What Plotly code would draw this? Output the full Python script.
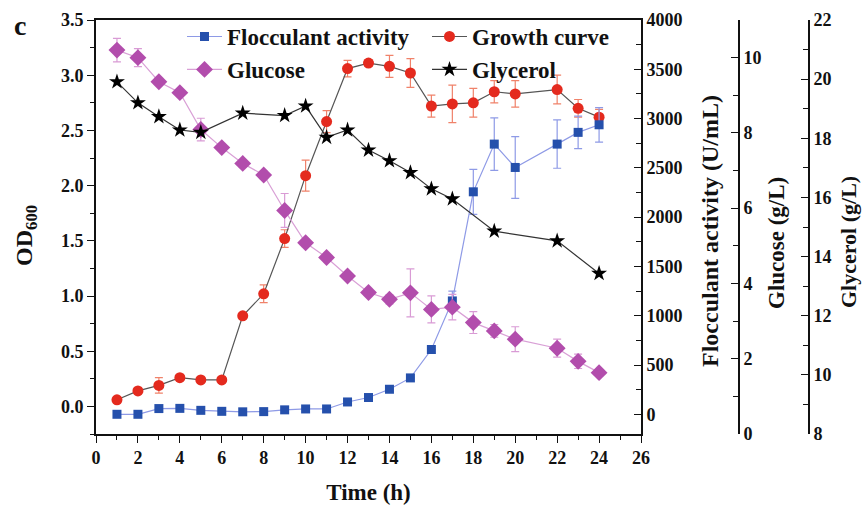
import plotly.graph_objects as go

# ---------------- data ----------------
hours = [1, 2, 3, 4, 5, 6, 7, 8, 9, 10, 11, 12, 13, 14, 15, 16, 17, 18, 19, 20, 22, 23, 24]
growth_od = [0.06, 0.14, 0.19, 0.26, 0.24, 0.24, 0.82, 1.02, 1.52, 2.09, 2.58, 3.06, 3.11, 3.08,
             3.02, 2.72, 2.74, 2.75, 2.85, 2.83, 2.87, 2.70, 2.62]
growth_err = [0.02, 0.02, 0.07, 0.02, 0.02, 0.02, 0.02, 0.08, 0.08, 0.14, 0.10, 0.075, 0.03, 0.10,
              0.13, 0.10, 0.17, 0.13, 0.10, 0.12, 0.13, 0.08, 0.07]
floc_activity = [0, 0, 58, 60, 40, 30, 25, 27, 45, 54, 54, 125, 170, 254, 369, 657, 1150, 2257,
                 2741, 2504, 2741, 2860, 2937]
floc_err = [0, 0, 0, 0, 0, 0, 0, 0, 0, 0, 0, 0, 0, 0, 0, 0, 100, 228, 267, 313, 245, 165, 175]
glucose = [10.2, 10.0, 9.36, 9.07, 8.09, 7.61, 7.19, 6.88, 5.94, 5.08, 4.69, 4.2, 3.76, 3.58,
           3.75, 3.31, 3.37, 2.96, 2.74, 2.52, 2.28, 1.93, 1.63]
glucose_err = [0.31, 0.24, 0.05, 0.05, 0.30, 0.05, 0.10, 0.10, 0.45, 0.10, 0.05, 0.08, 0.05, 0.12,
               0.64, 0.36, 0.34, 0.29, 0.17, 0.33, 0.24, 0.19, 0.05]
glycerol_hours = [1, 2, 3, 4, 5, 7, 9, 10, 11, 12, 13, 14, 15, 16, 17, 19, 22, 24]
glycerol = [19.91, 19.2, 18.73, 18.28, 18.2, 18.85, 18.77, 19.09, 18.03, 18.28, 17.6, 17.24,
            16.84, 16.29, 15.95, 14.86, 14.53, 13.43]

FONT = "Liberation Serif"
W, H = 862, 508
ML, MR, MT, MB = 96, 10, 20, 74
PW = W - ML - MR
PH = H - MT - MB
dom_r = 545 / PW


def px(xpix):
    return (xpix - ML) / PW


def py(ypix):
    return 1 - (ypix - MT) / PH


fig = go.Figure()

fig.add_trace(go.Scatter(
    x=hours, y=floc_activity, yaxis="y2", name="Flocculant activity", legend="legend",
    mode="lines+markers",
    line=dict(color="#8e9ae6", width=1.2),
    marker=dict(symbol="square", size=9, color="#2550ac"),
    error_y=dict(type="data", array=floc_err, color="#8e9ae6", thickness=1.2, width=4),
))
fig.add_trace(go.Scatter(
    x=hours, y=growth_od, yaxis="y", name="Growth curve", legend="legend2",
    mode="lines+markers",
    line=dict(color="#555555", width=1.2),
    marker=dict(symbol="circle", size=11, color="#e42a1e"),
    error_y=dict(type="data", array=growth_err, color="#f0826a", thickness=1.2, width=4),
))
fig.add_trace(go.Scatter(
    x=hours, y=glucose, yaxis="y3", name="Glucose", legend="legend",
    mode="lines+markers",
    line=dict(color="#d9a0d6", width=1.2),
    marker=dict(symbol="diamond", size=13, color="#b24dac"),
    error_y=dict(type="data", array=glucose_err, color="#d99bd5", thickness=1.2, width=4),
))
fig.add_trace(go.Scatter(
    x=glycerol_hours, y=glycerol, yaxis="y4", name="Glycerol", legend="legend2",
    mode="lines+markers",
    line=dict(color="#333333", width=1.2),
    marker=dict(symbol="star", size=12, color="#000000"),
))

tickfont = dict(family=FONT, size=18, color="#111111", weight="bold")
titlefont = dict(family=FONT, size=23, color="#111111", weight="bold")

common_y = dict(showgrid=False, zeroline=False, showline=True, linecolor="#111111", linewidth=1.6,
                tickfont=tickfont, ticklen=7, tickwidth=1.4, tickcolor="#111111", automargin=False)


def vtitle(text, xpix, ypix, size=23):
    return dict(text=text, xref="paper", yref="paper", x=px(xpix), y=py(ypix),
                xanchor="center", yanchor="middle", textangle=-90, showarrow=False,
                font=dict(family=FONT, size=size, color="#111111", weight="bold"))


fig.update_layout(
    width=W, height=H,
    margin=dict(l=ML, r=MR, t=MT, b=MB),
    paper_bgcolor="white", plot_bgcolor="white",
    font=dict(family=FONT, color="#111111"),
    xaxis=dict(domain=[0, dom_r], range=[0, 26], tick0=0, dtick=2, showgrid=False, zeroline=False,
               showline=True, linecolor="#111111", linewidth=1.6, mirror=True, automargin=False,
               ticks="outside", ticklen=7, tickwidth=1.4, tickcolor="#111111", tickfont=tickfont,
               minor=dict(ticks="outside", dtick=1, ticklen=4, tickwidth=1.2, tickcolor="#111111"),
               title=dict(text="Time (h)", font=titlefont, standoff=16)),
    yaxis=dict(range=[-0.25, 3.5], tick0=0, dtick=0.5, tickformat=".1f", ticks="outside",
               minor=dict(ticks="outside", dtick=0.25, ticklen=4, tickwidth=1.2, tickcolor="#111111"),
               **common_y),
    yaxis2=dict(range=[-200, 4000], tick0=0, dtick=500, overlaying="y", side="right", anchor="x",
                ticks="inside",
                minor=dict(ticks="inside", dtick=250, ticklen=5, tickwidth=1.2, tickcolor="#111111"),
                **common_y),
    yaxis3=dict(range=[0, 11], tick0=0, dtick=2, overlaying="y", side="right", anchor="free",
                position=px(739), ticks="inside",
                minor=dict(ticks="inside", dtick=1, ticklen=5, tickwidth=1.2, tickcolor="#111111"),
                **common_y),
    yaxis4=dict(range=[8, 22], tick0=8, dtick=2, overlaying="y", side="right", anchor="free",
                position=px(809), ticks="inside",
                minor=dict(ticks="inside", dtick=1, ticklen=5, tickwidth=1.2, tickcolor="#111111"),
                **common_y),
    legend=dict(x=px(182), y=1.012, xanchor="left", yanchor="top", bgcolor="rgba(0,0,0,0)",
                font=dict(family=FONT, size=23, color="#111111", weight="bold"),
                tracegroupgap=0, itemwidth=35),
    legend2=dict(x=px(427), y=1.012, xanchor="left", yanchor="top", bgcolor="rgba(0,0,0,0)",
                 font=dict(family=FONT, size=23, color="#111111", weight="bold"),
                 tracegroupgap=0, itemwidth=35),
    annotations=[
        dict(text="c", xref="paper", yref="paper", x=px(12), y=py(26),
             xanchor="left", yanchor="middle", showarrow=False,
             font=dict(family=FONT, size=28, color="#111111", weight="bold")),
        vtitle("OD<sub>600</sub>", 26, 236, size=24),
        vtitle("Flocculant activity (U/mL)", 710, 231, size=24),
        vtitle("Glucose (g/L)", 777, 243),
        vtitle("Glycerol (g/L)", 848, 242, size=22),
    ],
)

fig.write_html("out.html")
